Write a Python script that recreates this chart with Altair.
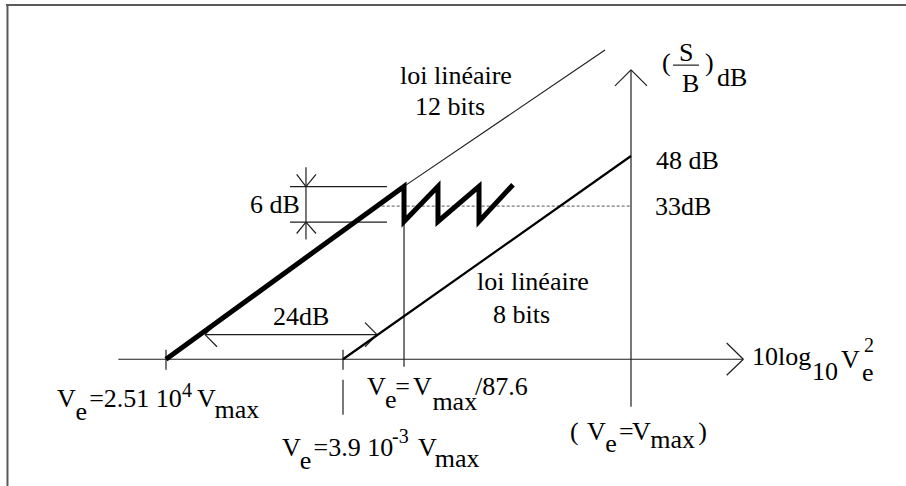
import altair as alt
import pandas as pd

# Coordinates are in dB: x = 10log10(Ve^2) relative to Vmax, y = (S/B) in dB.

# Frame around the figure
frame_segments = [
    (-104.17, 83.67, 45.83, 83.67),
    (-103.92, 83.67, -103.92, -29.94),
]

# Axes, arrows, ticks and dimension marks
thin_segments = [
    (-85.45, 0.0, 18.72, 0.0),          # horizontal axis
    (15.95, 3.83, 18.72, 0.0),
    (15.95, -3.79, 18.72, 0.0),
    (0.0, -11.24, 0.0, 68.36),          # vertical axis
    (-2.67, 64.57, 0.0, 68.36),
    (2.67, 64.57, 0.0, 68.36),
    (-77.5, 2.25, -77.5, -2.49),        # ticks
    (-48.0, 2.25, -48.0, -2.49),
    (-48.0, -4.85, -48.0, -13.14),
    (-37.83, 40.83, -37.83, -1.78),     # Ve = Vmax/87.6
    (-56.83, 40.76, -40.67, 40.76),     # 6 dB bracket
    (-56.83, 32.38, -40.67, 32.38),
    (-54.17, 45.33, -54.17, 28.28),
    (-55.72, 43.67, -54.17, 40.76),
    (-52.5, 43.67, -54.17, 40.76),
    (-55.72, 29.7, -54.17, 32.38),
    (-52.5, 29.7, -54.17, 32.38),
    (-71.0, 5.80, -42.33, 5.80),        # 24 dB arrow
    (-69.0, 8.64, -71.0, 5.80),
    (-69.0, 2.96, -71.0, 5.80),
    (-44.33, 8.64, -42.33, 5.80),
    (-44.33, 2.96, -42.33, 5.80),
    (-37.83, 40.83, -4.33, 73.02),      # linear law, 12 bits
    (7.0, 69.47, 11.33, 69.47),         # fraction bar S/B
]

# Linear law, 8 bits
law8_segments = [(-48.0, 0.0, 0.0, 48.0)]

# 33 dB level
level_segments = [(-41.55, 36.17, 0.0, 36.17)]

# Companded law: straight part then saw-tooth
comp_x = [-77.5, -37.83, -37.83, -32.17, -32.17, -25.33, -25.33, -19.67]
comp_y = [0.0, 40.83, 32.54, 40.83, 32.54, 40.83, 32.54, 41.23]

# Labels (left edge, baseline)
label_text = [
    "loi linéaire", "12 bits", "loi linéaire", "8 bits",
    "48 dB", "33dB", "6 dB", "24dB",
    "(", "S", "B", ")", "dB",
    "10log", "10", "V", "e",
    "V", "e", "=2.51 10", "V", "max",
    "V", "e", "=", "V", "max", "/87.6",
    "V", "e", "=3.9 10", "V", "max",
    "(", "V", "e", "=", "V", "max", ")",
]
label_x = [
    -38.5, -36.0, -25.67, -23.0,
    4.17, 4.0, -63.5, -59.67,
    5.17, 8.0, 8.5, 12.33, 14.33,
    20.17, 30.17, 35.0, 38.5,
    -95.67, -92.6, -90.3, -72.33, -69.4,
    -44.0, -41.0, -39.3, -36.33, -33.1, -26.0,
    -58.17, -55.2, -52.9, -35.5, -32.7,
    -10.17, -7.33, -4.3, -2.0, 0.17, 3.2, 11.2,
]
label_y = [
    64.97, 57.63, 16.45, 8.64,
    44.85, 33.96, 34.44, 8.17,
    68.05, 70.41, 63.08, 68.05, 64.50,
    -1.30, -4.85, -2.01, -5.09,
    -11.17, -14.32, -11.17, -11.17, -13.85,
    -8.40, -11.48, -8.40, -8.40, -11.95, -8.40,
    -22.84, -25.92, -22.84, -22.84, -25.44,
    -19.05, -19.05, -21.89, -19.05, -19.05, -20.95, -19.05,
]

# Exponents
sup_text = ["2", "4", "-3"]
sup_x = [38.83, -74.83, -39.83]
sup_y = [1.78, -8.88, -19.76]


def seg_frame(segs):
    return pd.DataFrame(segs, columns=["x", "y", "x2", "y2"])


xscale = alt.Scale(domain=[-105, 45], range=[1, 901], nice=False, zero=False)
yscale = alt.Scale(domain=[-30, 85], range=[486.25, -0.625], nice=False, zero=False)
X = alt.X("x:Q", scale=xscale, axis=None)
Y = alt.Y("y:Q", scale=yscale, axis=None)


def rules(segs, **style):
    return alt.Chart(seg_frame(segs)).mark_rule(**style).encode(
        x=X, y=Y, x2="x2:Q", y2="y2:Q"
    )


frame = rules(frame_segments, color="#5a5a5a", strokeWidth=2)
thin = rules(thin_segments, color="#1e1e1e", strokeWidth=1.2)
law8 = rules(law8_segments, color="black", strokeWidth=2.2)
level = rules(level_segments, color="#555555", strokeWidth=1, strokeDash=[3, 2])

comp_df = pd.DataFrame({"x": comp_x, "y": comp_y, "k": range(len(comp_x))})
comp = alt.Chart(comp_df).mark_line(
    color="black", strokeWidth=5, strokeJoin="miter", strokeMiterLimit=3
).encode(x=X, y=Y, order="k:Q")

lab_df = pd.DataFrame({"x": label_x, "y": label_y, "t": label_text})
labels = alt.Chart(lab_df).mark_text(
    align="left", baseline="alphabetic", font="Liberation Serif",
    fontSize=26, color="black"
).encode(x=X, y=Y, text="t:N")

sup_df = pd.DataFrame({"x": sup_x, "y": sup_y, "t": sup_text})
sups = alt.Chart(sup_df).mark_text(
    align="left", baseline="alphabetic", font="Liberation Serif",
    fontSize=20, color="black"
).encode(x=X, y=Y, text="t:N")

chart = alt.layer(frame, level, thin, law8, comp, labels, sups).properties(
    width=906, height=486, padding=0, autosize=alt.AutoSizeParams(type="none"),
    background="white",
).configure_view(stroke=None)

chart.save("out.html", embed_options={"renderer": "svg", "actions": False})
